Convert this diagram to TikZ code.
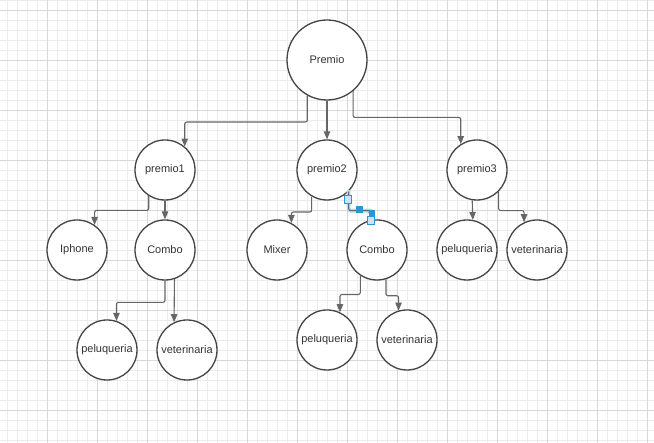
\documentclass[tikz,border=0pt]{standalone}
\usepackage{fontspec}
\setmainfont{Liberation Sans}
\usepackage{tikz}
\usetikzlibrary{arrows.meta, calc}
\definecolor{gridminor}{RGB}{236, 236, 236}
\definecolor{gridmajor}{RGB}{216, 216, 216}
\definecolor{edgegray}{RGB}{102, 102, 102}
\definecolor{circgray}{RGB}{68, 68, 68}
\definecolor{selblue}{RGB}{41, 150, 214}

\tikzset{
    circ/.style={circle, draw=circgray, line width=1.3pt, fill=white, inner sep=0pt,
        text=black!80, font=\fontsize{11}{13}\selectfont},
    big/.style={circ, minimum size=80pt},
    small/.style={circ, minimum size=60pt},
    conn/.style={draw=edgegray, line width=1.1pt, rounded corners=2pt,
        -{Triangle[length=8pt, width=6.5pt]}},
    handle/.style={draw=selblue, fill=selblue!25, line width=0.6pt, minimum size=7pt, inner sep=0pt}
}

\begin{document}
\begin{tikzpicture}[x=1pt, y=-1pt]
    \useasboundingbox (0,0) rectangle (654,443);

    % Cuadricula
    \foreach \x in {7.3, 17.3, ..., 650} {
        \draw[gridminor, line width=0.8pt] (\x,0) -- (\x,443);
    }
    \foreach \y in {0.7, 10.7, ..., 443} {
        \draw[gridminor, line width=0.8pt] (0,\y) -- (654,\y);
    }
    \foreach \x in {47.3, 97.3, ..., 650} {
        \draw[gridmajor, line width=0.9pt] (\x,0) -- (\x,443);
    }
    \foreach \y in {10.7, 60.7, ..., 443} {
        \draw[gridmajor, line width=0.9pt] (0,\y) -- (654,\y);
    }

    % Nodos
    \node[big] (premio) at (327,60) {Premio};

    \node[small] (premio1) at (165,170) {premio1};
    \node[small] (premio2) at (327,170) {premio2};
    \node[small] (premio3) at (477,170) {premio3};

    \node[small] (iphone) at (77,250) {Iphone};
    \node[small] (combo1) at (165,250) {Combo};
    \node[small] (mixer) at (277,250) {Mixer};
    \node[small] (combo2) at (377,250) {Combo};
    \node[small] (pelu3) at (467,250) {peluqueria};
    \node[small] (vet3) at (537,250) {veterinaria};

    \node[small] (pelu1) at (107,350) {peluqueria};
    \node[small] (vet1) at (187,350) {veterinaria};
    \node[small] (pelu2) at (327,340) {peluqueria};
    \node[small] (vet2) at (407,340) {veterinaria};

    % Conectores
    \draw[conn] (premio.241.6) -- ++(0,26.5) -| (premio1.50.7);
    \draw[conn] (premio) -- (premio2);
    \draw[conn] (premio.310.5) -- ++(0,26.3) -| (premio3.122.2);

    \draw[conn] (premio1.238.5) -- ++(0,14.4) -| (iphone.55.5);
    \draw[conn] (premio1) -- (combo1);

    \draw[conn] (combo1.south) -- ++(0,21.7) -| (pelu1.72.5);
    \draw[conn] (combo1.288.1) -- (vet1.115);

    \draw[conn] (premio2.240.7) -- ++(0,15.5) -| (mixer.62.8);

    % Conector seleccionado
    \draw[selblue!35, line width=4pt, rounded corners=2pt, line cap=round]
        (premio2.315.3) -- ++(0,18.9) -| (combo2.100.2);
    \draw[conn] (premio2.315.3) -- ++(0,18.9) -| (combo2.100.2);
    \node[handle, minimum width=7pt, minimum height=8pt] (h1) at (347.5,199) {};
    \node[handle, fill=selblue, minimum size=6pt] (h2) at (359.5,209.5) {};
    \node[handle, fill=selblue, minimum size=5pt] (h3) at (371.5,212.5) {};
    \node[handle, minimum width=7pt, minimum height=8pt] (h4) at (371,220) {};

    \draw[conn] (combo2.237.1) -- ++(0,18.8) -| (pelu2.65.8);
    \draw[conn] (combo2.287.5) -- ++(0,16.4) -| (vet2.106.9);

    \draw[conn] (premio3.261) -- (pelu3.79.8);
    \draw[conn] (premio3.315.3) -- ++(0,18.9) -| (vet3.115.7);
\end{tikzpicture}
\end{document}
